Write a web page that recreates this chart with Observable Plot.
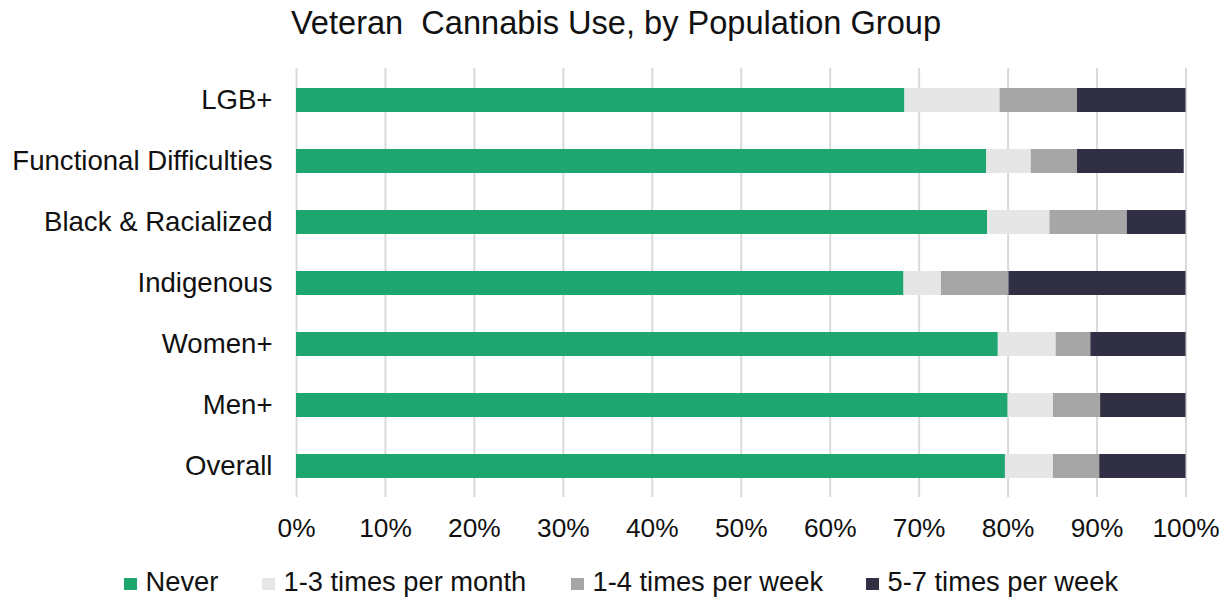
<!DOCTYPE html>
<html>
<head>
<meta charset="utf-8">
<script src="https://cdn.jsdelivr.net/npm/d3@7"></script>
<script src="https://cdn.jsdelivr.net/npm/@observablehq/plot@0.6"></script>
<style>
  html, body { margin: 0; padding: 0; background: #fff; }
  body { width: 1228px; height: 598px; position: relative; overflow: hidden;
         font-family: "Liberation Sans", Arial, sans-serif; color: #111; }
  #title { position: absolute; left: 0; top: 0; width: 1232px; height: 45px; line-height: 45px;
           text-align: center; font-size: 32.6px; }
  #chart { position: absolute; left: 0; top: 45px; }
  #legend { position: absolute; top: 568px; left: 0; width: 1228px; height: 28px; font-size: 27.3px; }
  .item { position: absolute; top: 0; height: 28px; line-height: 28px; white-space: nowrap; }
  .sw { display: inline-block; width: 12.5px; height: 12.5px; margin-right: 9px; vertical-align: 1px; }
</style>
</head>
<body>
<div id="title">Veteran&nbsp; Cannabis Use, by Population Group</div>
<div id="chart"></div>
<div id="legend"></div>
<script>
const categories = ["LGB+", "Functional Difficulties", "Black & Racialized", "Indigenous", "Women+", "Men+", "Overall"];
const series = ["Never", "1-3 times per month", "1-4 times per week", "5-7 times per week"];
const never   = [68.4, 77.6, 77.7, 68.3, 78.9, 80.0, 79.7];
const monthly = [10.7,  5.0,  7.0,  4.2,  6.5,  5.1,  5.4];
const weekly  = [ 8.7,  5.2,  8.7,  7.6,  3.9,  5.3,  5.2];
const daily   = [12.2, 12.0,  6.6, 19.9, 10.7,  9.6,  9.7];
const colors  = ["#1fa56f", "#e6e6e6", "#a6a6a6", "#302f43"];
const xTicks  = [0, 10, 20, 30, 40, 50, 60, 70, 80, 90, 100];
const legendLefts = [124, 262, 571, 866];

const seriesValues = [never, monthly, weekly, daily];
const data = [];
categories.forEach((c, i) => {
  series.forEach((s, j) => data.push({category: c, series: s, value: seriesValues[j][i]}));
});

const chart = Plot.plot({
  width: 1228,
  height: 510,
  marginTop: 23,
  marginBottom: 58,
  marginLeft: 296,
  marginRight: 42.5,
  style: {fontFamily: '"Liberation Sans", Arial, sans-serif', background: "#fff", color: "#111"},
  x: {domain: [0, 100]},
  y: {domain: categories, paddingInner: 0.61, paddingOuter: 0.305},
  color: {domain: series, range: colors},
  marks: [
    Plot.gridX(xTicks, {stroke: "#d9d9d9", strokeOpacity: 1, strokeWidth: 2}),
    Plot.barX(data, Plot.stackX({x: "value", y: "category", fill: "series", order: series})),
    Plot.axisX({ticks: xTicks, tickSize: 0, tickPadding: 21, fontSize: 26.3, tickFormat: d => d + "%", label: null}),
    Plot.axisY({tickSize: 0, tickPadding: 24, fontSize: 27.6, label: null})
  ]
});
document.getElementById("chart").appendChild(chart);

const legend = document.getElementById("legend");
series.forEach((s, j) => {
  const item = document.createElement("div");
  item.className = "item";
  item.style.left = legendLefts[j] + "px";
  const sw = document.createElement("span");
  sw.className = "sw";
  sw.style.background = colors[j];
  item.appendChild(sw);
  item.appendChild(document.createTextNode(s));
  legend.appendChild(item);
});
</script>
</body>
</html>
